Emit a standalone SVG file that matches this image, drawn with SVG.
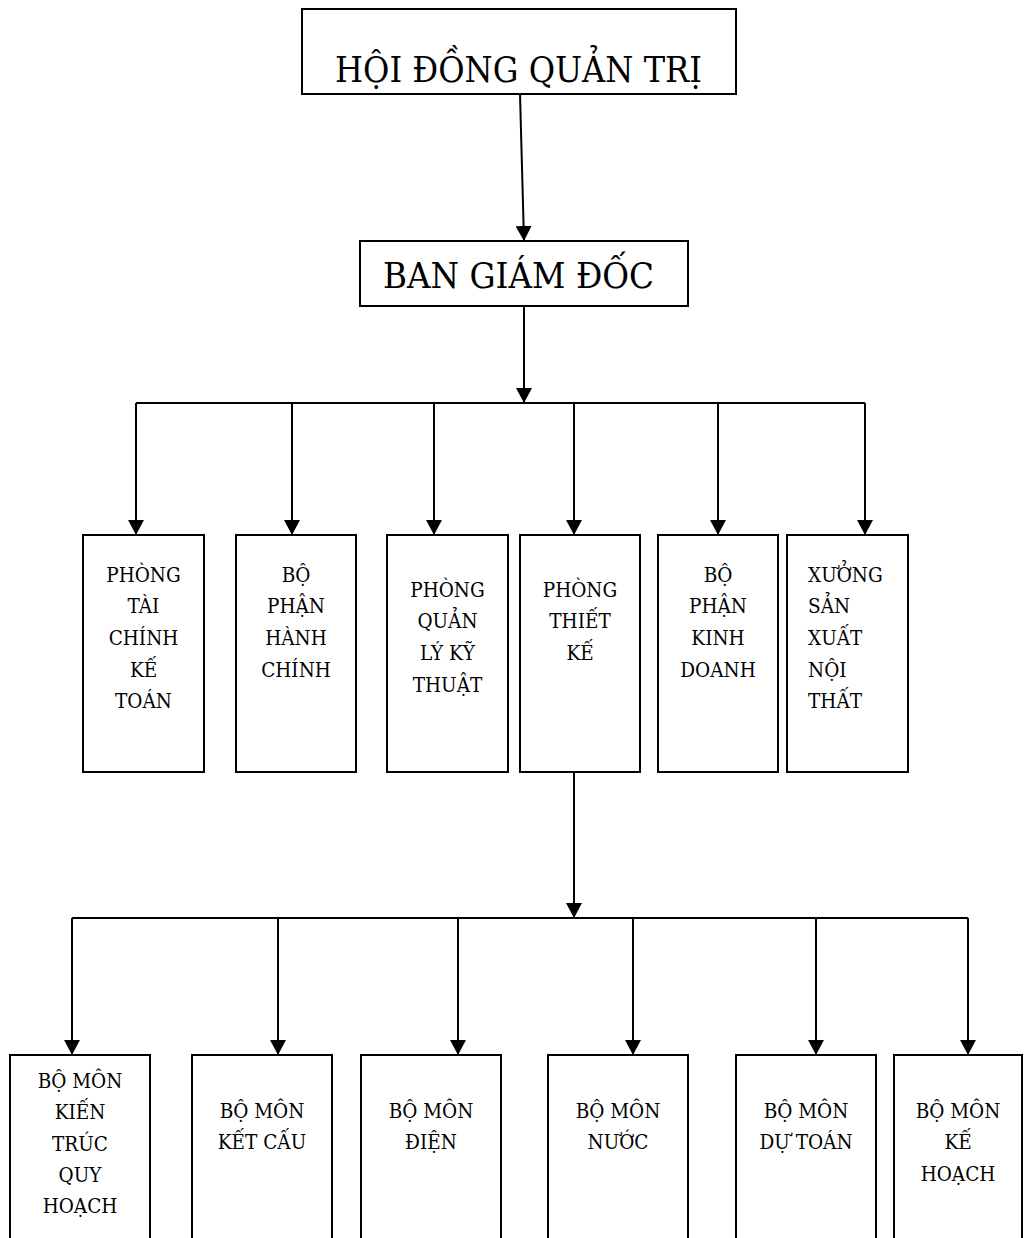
<svg xmlns="http://www.w3.org/2000/svg" width="1024" height="1238" viewBox="0 0 1024 1238">
<style>
.box{fill:#fff;stroke:#000;stroke-width:2}
.t{font-family:'DejaVu Serif','Liberation Serif',serif;fill:#000}
.big{font-size:36px}
.sm{font-size:20.5px;text-anchor:middle;font-stretch:condensed}
.c{fill:none;stroke:#000;stroke-width:2}
</style>
<defs>
<marker id="ah" markerUnits="userSpaceOnUse" markerWidth="16" markerHeight="16" refX="15" refY="8" orient="auto">
<path d="M0,0 L15,8 L0,16 z" fill="#000"/>
</marker>
</defs>
<rect width="1024" height="1238" fill="#fff"/>
<g id="connectors">
<line class="c" x1="520" y1="94" x2="524" y2="241" marker-end="url(#ah)"/>
<line class="c" x1="524" y1="306" x2="524" y2="403" marker-end="url(#ah)"/>
<line class="c" x1="136" y1="403" x2="865" y2="403"/>
<line class="c" x1="136" y1="403" x2="136" y2="535" marker-end="url(#ah)"/>
<line class="c" x1="292" y1="403" x2="292" y2="535" marker-end="url(#ah)"/>
<line class="c" x1="434" y1="403" x2="434" y2="535" marker-end="url(#ah)"/>
<line class="c" x1="574" y1="403" x2="574" y2="535" marker-end="url(#ah)"/>
<line class="c" x1="718" y1="403" x2="718" y2="535" marker-end="url(#ah)"/>
<line class="c" x1="865" y1="403" x2="865" y2="535" marker-end="url(#ah)"/>
<line class="c" x1="574" y1="772" x2="574" y2="918" marker-end="url(#ah)"/>
<line class="c" x1="72" y1="918" x2="968" y2="918"/>
<line class="c" x1="72" y1="918" x2="72" y2="1055" marker-end="url(#ah)"/>
<line class="c" x1="278" y1="918" x2="278" y2="1055" marker-end="url(#ah)"/>
<line class="c" x1="458" y1="918" x2="458" y2="1055" marker-end="url(#ah)"/>
<line class="c" x1="633" y1="918" x2="633" y2="1055" marker-end="url(#ah)"/>
<line class="c" x1="816" y1="918" x2="816" y2="1055" marker-end="url(#ah)"/>
<line class="c" x1="968" y1="918" x2="968" y2="1055" marker-end="url(#ah)"/>
</g>
<g id="hdqt">
<rect class="box" x="302" y="9" width="434" height="85"/>
<text class="t big" x="335" y="82" textLength="367" lengthAdjust="spacingAndGlyphs">HỘI ĐỒNG QUẢN TRỊ</text>
</g>
<g id="bgd">
<rect class="box" x="360" y="241" width="328" height="65"/>
<text class="t big" x="383" y="288" textLength="271" lengthAdjust="spacingAndGlyphs">BAN GIÁM ĐỐC</text>
</g>
<g id="p1">
<rect class="box" x="83" y="535" width="121" height="237"/>
<text class="t sm"><tspan x="143.5" y="582">PHÒNG</tspan><tspan x="143.5" y="613">TÀI</tspan><tspan x="143.5" y="645">CHÍNH</tspan><tspan x="143.5" y="677">KẾ</tspan><tspan x="143.5" y="708">TOÁN</tspan></text>
</g>
<g id="p2">
<rect class="box" x="236" y="535" width="120" height="237"/>
<text class="t sm"><tspan x="296" y="582">BỘ</tspan><tspan x="296" y="613">PHẬN</tspan><tspan x="296" y="645">HÀNH</tspan><tspan x="296" y="677">CHÍNH</tspan></text>
</g>
<g id="p3">
<rect class="box" x="387" y="535" width="121" height="237"/>
<text class="t sm"><tspan x="447.5" y="597">PHÒNG</tspan><tspan x="447.5" y="628">QUẢN</tspan><tspan x="447.5" y="660">LÝ KỸ</tspan><tspan x="447.5" y="692">THUẬT</tspan></text>
</g>
<g id="p4">
<rect class="box" x="520" y="535" width="120" height="237"/>
<text class="t sm"><tspan x="580" y="597">PHÒNG</tspan><tspan x="580" y="628">THIẾT</tspan><tspan x="580" y="660">KẾ</tspan></text>
</g>
<g id="p5">
<rect class="box" x="658" y="535" width="120" height="237"/>
<text class="t sm"><tspan x="718" y="582">BỘ</tspan><tspan x="718" y="613">PHẬN</tspan><tspan x="718" y="645">KINH</tspan><tspan x="718" y="677">DOANH</tspan></text>
</g>
<g id="p6">
<rect class="box" x="787" y="535" width="121" height="237"/>
<text class="t sm" text-anchor="start" style="text-anchor:start"><tspan x="808" y="582">XƯỞNG</tspan><tspan x="808" y="613">SẢN</tspan><tspan x="808" y="645">XUẤT</tspan><tspan x="808" y="677">NỘI</tspan><tspan x="808" y="708">THẤT</tspan></text>
</g>
<g id="b1">
<rect class="box" x="10" y="1055" width="140" height="200"/>
<text class="t sm"><tspan x="80" y="1088">BỘ MÔN</tspan><tspan x="80" y="1119">KIẾN</tspan><tspan x="80" y="1151">TRÚC</tspan><tspan x="80" y="1182">QUY</tspan><tspan x="80" y="1213">HOẠCH</tspan></text>
</g>
<g id="b2">
<rect class="box" x="192" y="1055" width="140" height="200"/>
<text class="t sm"><tspan x="262" y="1118">BỘ MÔN</tspan><tspan x="262" y="1149">KẾT CẤU</tspan></text>
</g>
<g id="b3">
<rect class="box" x="361" y="1055" width="140" height="200"/>
<text class="t sm"><tspan x="431" y="1118">BỘ MÔN</tspan><tspan x="431" y="1149">ĐIỆN</tspan></text>
</g>
<g id="b4">
<rect class="box" x="548" y="1055" width="140" height="200"/>
<text class="t sm"><tspan x="618" y="1118">BỘ MÔN</tspan><tspan x="618" y="1149">NƯỚC</tspan></text>
</g>
<g id="b5">
<rect class="box" x="736" y="1055" width="140" height="200"/>
<text class="t sm"><tspan x="806" y="1118">BỘ MÔN</tspan><tspan x="806" y="1149">DỰ TOÁN</tspan></text>
</g>
<g id="b6">
<rect class="box" x="894" y="1055" width="128" height="200"/>
<text class="t sm"><tspan x="958" y="1118">BỘ MÔN</tspan><tspan x="958" y="1149">KẾ</tspan><tspan x="958" y="1181">HOẠCH</tspan></text>
</g>
</svg>
